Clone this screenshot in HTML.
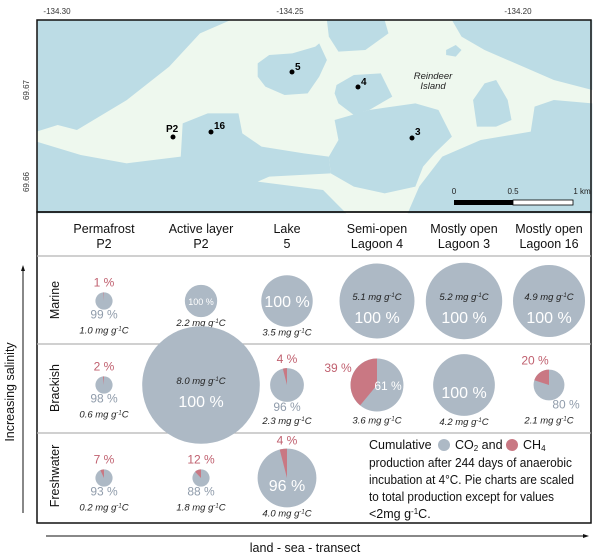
<!DOCTYPE html>
<html><head><meta charset="utf-8"><style>
html,body{margin:0;padding:0;background:#fff;}
svg{display:block;font-family:"Liberation Sans",sans-serif;}
</style></head><body>
<svg id="fig" width="600" height="558" viewBox="0 0 600 558" xmlns="http://www.w3.org/2000/svg">
<g>
  <rect x="37" y="20" width="554" height="192" fill="#eef8ee"/>
  <g transform="scale(0.3846,0.3333)" fill="#bcdce5">
    <polygon points="95,60 600,60 520,100 440,200 330,300 200,390 150,375 95,395"/>
    <polygon points="95,425 210,465 330,490 470,470 475,370 540,340 620,340 630,400 680,440 790,460 855,470 860,520 700,530 670,545 840,570 900,640 95,640"/>
    <polygon points="870,360 960,330 1080,310 1140,330 1175,410 1130,460 1100,500 1080,560 1000,580 920,560 860,520 855,470 880,420"/>
    <polygon points="1060,640 1090,560 1150,470 1250,420 1380,395 1390,320 1440,300 1540,310 1540,640"/>
    <polygon points="670,190 700,165 760,160 820,140 830,130 850,180 830,230 800,280 740,285 690,260 670,230"/>
    <polygon points="875,255 920,225 990,220 1020,290 960,330 920,345 880,310 870,280"/>
    <polygon points="850,60 1000,60 1010,100 950,150 880,155 855,110"/>
    <polygon points="1175,60 1540,60 1540,270 1440,240 1360,200 1260,150 1200,110"/>
    <polygon points="1230,300 1260,250 1290,240 1320,300 1330,360 1290,380 1240,380"/>
    <polygon points="1160,150 1185,135 1200,150 1185,170 1160,165"/>
    <polygon points="540,520 575,522 580,535 550,535"/>
  </g>
  <rect x="37" y="20" width="554" height="192" fill="none" stroke="#111" stroke-width="1.5"/>
  <g font-size="8" fill="#333" text-anchor="middle">
    <text x="57" y="14">-134.30</text>
    <text x="290" y="14">-134.25</text>
    <text x="518" y="14">-134.20</text>
  </g>
  <g font-size="8" fill="#333" text-anchor="middle">
    <text transform="translate(29,90) rotate(-90)">69.67</text>
    <text transform="translate(29,182) rotate(-90)">69.66</text>
  </g>
  <g font-size="10" font-weight="bold" fill="#000">
    <circle cx="292" cy="72" r="2.5"/><text x="295" y="70">5</text>
    <circle cx="358" cy="87" r="2.5"/><text x="361" y="85">4</text>
    <circle cx="173" cy="137" r="2.5"/><text x="166" y="132">P2</text>
    <circle cx="211" cy="132" r="2.5"/><text x="214" y="129">16</text>
    <circle cx="412" cy="138" r="2.5"/><text x="415" y="135">3</text>
  </g>
  <g font-size="9.5" font-style="italic" fill="#222" text-anchor="middle">
    <text x="433" y="79">Reindeer</text><text x="433" y="89">Island</text>
  </g>
  <g>
    <rect x="454" y="200" width="59" height="5" fill="#000"/>
    <rect x="513" y="200" width="60" height="5" fill="#fff" stroke="#000" stroke-width="0.8"/>
    <g font-size="8" fill="#222" text-anchor="middle"><text x="454" y="194">0</text><text x="513" y="194">0.5</text><text x="582" y="194">1 km</text></g>
  </g>
</g>
<rect x="37" y="212" width="554" height="311" fill="none" stroke="#111" stroke-width="1.5"/>
<g stroke="#b5b5b5" stroke-width="1.2">
  <line x1="37" x2="591" y1="256" y2="256"/><line x1="37" x2="591" y1="344" y2="344"/><line x1="37" x2="591" y1="433" y2="433"/>
</g>
<g id="headers" font-size="12.5" fill="#111" text-anchor="middle"></g>
<g id="rowlabels" font-size="12.5" fill="#111" text-anchor="middle"></g>
<g id="pies"></g>
<g>
  <line x1="23" y1="513" x2="23" y2="270" stroke="#111" stroke-width="1"/>
  <polygon points="23,265 21,271 25,271" fill="#111"/>
  <text transform="translate(14,392) rotate(-90)" font-size="12.5" text-anchor="middle" fill="#111">Increasing salinity</text>
</g>
<g>
  <line x1="46" y1="536" x2="584" y2="536" stroke="#111" stroke-width="1"/>
  <polygon points="589,536 583,534 583,538" fill="#111"/>
  <text x="305" y="552" font-size="12.5" text-anchor="middle" fill="#111">land - sea - transect</text>
</g>
<g font-size="12.5" fill="#111">
  <text x="369" y="449">Cumulative</text>
  <circle cx="444" cy="445" r="6" fill="#adb9c5"/>
  <text x="455" y="449">CO<tspan font-size="8" dy="2">2</tspan><tspan dy="-2"> and</tspan></text>
  <circle cx="512" cy="445" r="6" fill="#c97883"/>
  <text x="523" y="449">CH<tspan font-size="8" dy="2">4</tspan></text>
  <text x="369" y="467" textLength="203" lengthAdjust="spacingAndGlyphs">production after 244 days of anaerobic</text>
  <text x="369" y="484" textLength="205" lengthAdjust="spacingAndGlyphs">incubation at 4°C. Pie charts are scaled</text>
  <text x="369" y="501" textLength="185" lengthAdjust="spacingAndGlyphs">to total production except for values</text>
  <text x="369" y="518">&lt;2mg g<tspan font-size="8" dy="-4">-1</tspan><tspan dy="4">C.</tspan></text>
</g>
<script>
// data
const columns1 = ["Permafrost","Active layer","Lake","Semi-open","Mostly open","Mostly open"];
const columns2 = ["P2","P2","5","Lagoon 4","Lagoon 3","Lagoon 16"];
const rows = ["Marine","Brackish","Freshwater"];
const totalMarine = [1.0, 2.2, 3.5, 5.1, 5.2, 4.9];
const totalBrackish = [0.6, 8.0, 2.3, 3.6, 4.2, 2.1];
const totalFresh = [0.2, 1.8, 4.0];
const ch4Marine = [1, 0, 0, 0, 0, 0];
const ch4Brackish = [2, 0, 4, 39, 0, 20];
const ch4Fresh = [7, 12, 4];

// layout
const colX = [104, 201, 287, 377, 464, 549];
const rowY = [301, 385, 478];
const rowLabelY = [300, 388, 476];
const NS = "http://www.w3.org/2000/svg";
function rScale(v){ return v < 2 ? 8.6 : 7.35 * v; }
function mk(tag, attrs, parent){ const e = document.createElementNS(NS, tag); for (const k in attrs) e.setAttribute(k, attrs[k]); parent.appendChild(e); return e; }

const hg = document.getElementById('headers');
columns1.forEach((c, i) => {
  const t = mk('text', {x: colX[i], y: 233}, hg); t.textContent = c;
  
  
  const t2 = mk('text', {x: colX[i], y: 248}, hg); t2.textContent = columns2[i];
  
  
});
const rg = document.getElementById('rowlabels');
rows.forEach((r, i) => {
  const t = mk('text', {transform: 'translate(59,' + rowLabelY[i] + ') rotate(-90)'}, rg); t.textContent = r;
  
  
});

const pg = document.getElementById('pies');
const GRAY = "#adb9c5", PINK = "#c97883", CH4T = "#c0606f", CO2T = "#909cab";
function label(txt, x, y, opts, g, name){
  const t = mk('text', Object.assign({x: x, y: y, 'text-anchor': 'middle'}, opts), g);
  t.textContent = txt;
  
  
  return t;
}
function mgLabel(v, x, y, g){
  const t = mk('text', {x: x, y: y, 'text-anchor': 'middle', 'font-size': 9.5, 'font-style': 'italic', fill: '#222'}, g);
  
  
  t.appendChild(document.createTextNode(v.toFixed(1) + ' mg g'));
  const s = mk('tspan', {'font-size': 6, dy: -3}, t); s.textContent = '-1';
  const s2 = mk('tspan', {dy: 3}, t); s2.textContent = 'C';
}
function pie(ri, ci, total, ch4){
  const cx = colX[ci], cy = rowY[ri], r = rScale(total);
  const g = mk('g', {}, pg);
  
  
  const c = mk('circle', {cx: cx, cy: cy, r: r, fill: GRAY}, g);
  
  
  if (ch4 > 0) {
    const a = ch4 / 100 * 2 * Math.PI;
    const x2 = cx - r * Math.sin(a), y2 = cy - r * Math.cos(a);
    const p = mk('path', {d: 'M' + cx + ',' + cy + ' L' + cx + ',' + (cy - r) + ' A' + r + ',' + r + ' 0 ' + (a > Math.PI ? 1 : 0) + ' 0 ' + x2 + ',' + y2 + ' Z', fill: PINK}, g);
    
    
  }
  const co2 = 100 - ch4;
  if (r < 12) {
    if (ch4 > 0) label(ch4 + ' %', cx, cy - r - 6, {'font-size': 12, fill: CH4T}, g, 'ch4-percent');
    label(co2 + ' %', cx, cy + r + 9, {'font-size': 12, fill: CO2T}, g, 'co2-percent');
    mgLabel(total, cx, cy + r + 24, g);
  } else if (r < 20) {
    if (ch4 >= 15) {
      label(ch4 + ' %', cx - 14, cy - r - 5, {'font-size': 12, fill: CH4T}, g, 'ch4-percent');
      label(co2 + ' %', cx + 17, cy + r + 8, {'font-size': 12, fill: CO2T}, g, 'co2-percent');
      mgLabel(total, cx, cy + r + 23, g);
    } else if (ch4 > 0) {
      label(ch4 + ' %', cx, cy - r - 5, {'font-size': 12, fill: CH4T}, g, 'ch4-percent');
      label(co2 + ' %', cx, cy + r + 9, {'font-size': 12, fill: CO2T}, g, 'co2-percent');
      mgLabel(total, cx, cy + r + 22, g);
    } else {
      label(co2 + ' %', cx, cy + 4, {'font-size': 9, fill: '#fff'}, g, 'co2-percent');
      mgLabel(total, cx, cy + r + 9, g);
    }
  } else if (r < 35) {
    if (ch4 >= 15) {
      label(ch4 + ' %', cx - 39, cy - 13, {'font-size': 12, fill: CH4T}, g, 'ch4-percent');
      label(co2 + ' %', cx + 11, cy + 5, {'font-size': 12, fill: '#fff'}, g, 'co2-percent');
      mgLabel(total, cx, cy + r + 12, g);
    } else {
      if (ch4 > 0) label(ch4 + ' %', cx, cy - r - 4, {'font-size': 12, fill: CH4T}, g, 'ch4-percent');
      label(co2 + ' %', cx, cy + (ri === 0 ? 6 : 13), {'font-size': 16, fill: '#fff'}, g, 'co2-percent');
      mgLabel(total, cx, cy + r + 9, g);
    }
  } else {
    mgLabel(total, cx, cy - 1, g);
    label(co2 + ' %', cx, cy + 22, {'font-size': 16, fill: '#fff'}, g, 'co2-percent');
  }
}
totalMarine.forEach((v, i) => pie(0, i, v, ch4Marine[i]));
totalBrackish.forEach((v, i) => pie(1, i, v, ch4Brackish[i]));
totalFresh.forEach((v, i) => pie(2, i, v, ch4Fresh[i]));
</script>
</svg>
</body></html>
